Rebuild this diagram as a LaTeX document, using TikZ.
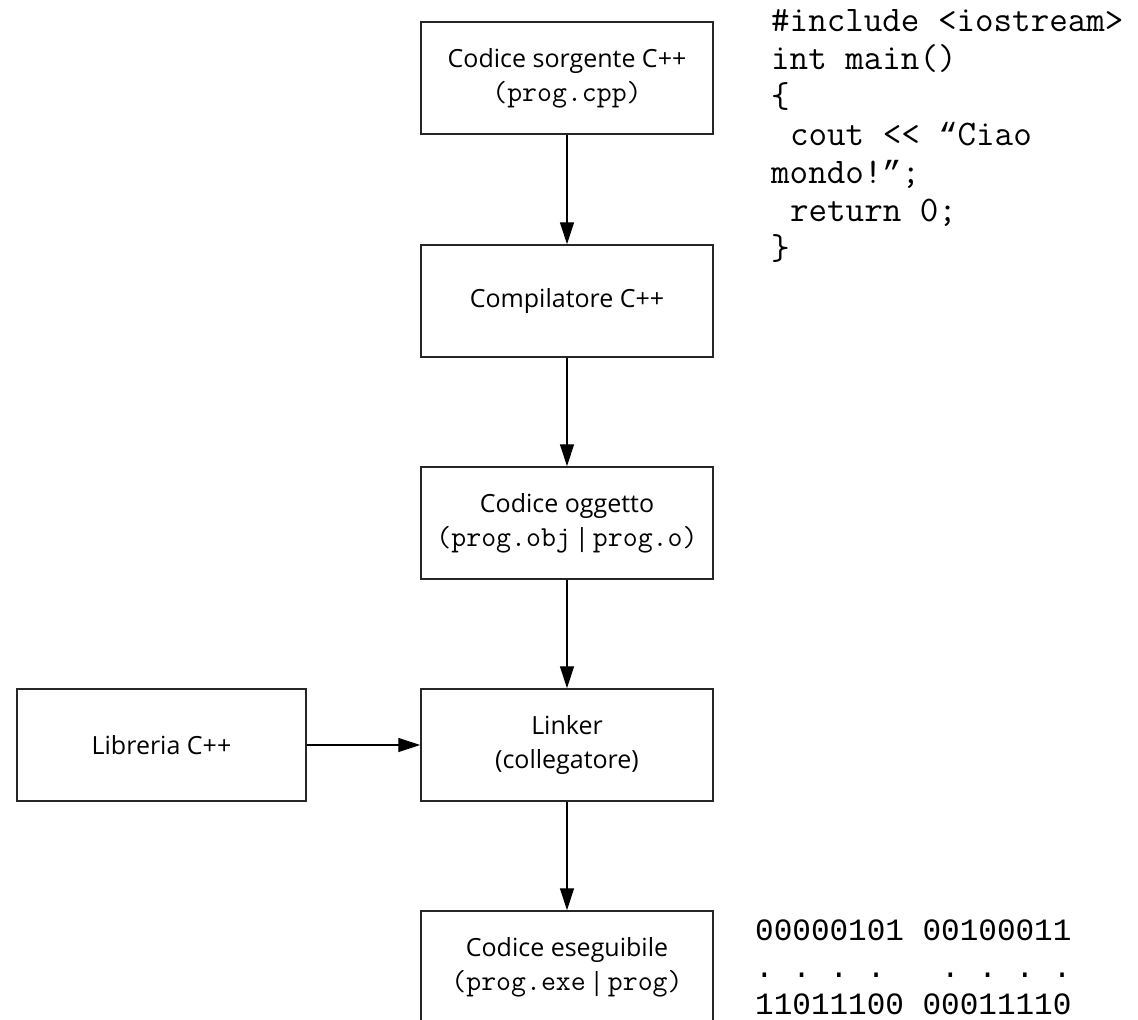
\documentclass[tikz,border=0pt]{standalone}
\usepackage{fontspec}
\setsansfont{Open Sans}
\newfontfamily\binaryfont{Liberation Mono}
\usetikzlibrary{arrows.meta}

\colorlet{stage line color}{black!85}
\newcommand{\filename}[1]{{\ttfamily\fontsize{29}{33}\selectfont #1}}
\newcommand{\codequote}[1]{{\binaryfont\fontsize{32}{38}\selectfont #1}}
\tikzset{
    x={1pt},
    y={-1pt},
    stage/.style={
        draw=stage line color,
        line width={1.5pt},
        rectangle,
        minimum width={292},
        minimum height={112},
        inner sep=0pt,
        align=center,
        font={\sffamily\fontsize{25}{34}\selectfont},
    },
    flow/.style={
        draw=black,
        line width={1.3pt},
        -{Triangle[length=22pt,width=14pt]},
    },
    listing/.style={
        anchor=north west,
        align=left,
        inner sep=0pt,
        font={\ttfamily\fontsize{36}{38}\selectfont},
    },
    machine code/.style={
        anchor=north west,
        align=left,
        inner sep=0pt,
        font={\binaryfont\fontsize{31}{37}\selectfont},
    },
}

\begin{document}
\begin{tikzpicture}
\useasboundingbox (0,0) rectangle (1138,1020);
% stages
\node[stage] (sorgente) at (567,78) {Codice sorgente C++\\\filename{(prog.cpp)}};
\node[stage] (compilatore) at (567,301) {Compilatore C++};
\node[stage] (oggetto) at (567,523) {Codice oggetto\\\filename{(prog.obj}\,|\,\filename{prog.o)}};
\node[stage] (linker) at (567,745) {Linker\\(collegatore)};
\node[stage] (eseguibile) at (567,967) {Codice eseguibile\\\filename{(prog.exe}\,|\,\filename{prog)}};
\node[stage, minimum width={289}] (libreria) at (161.5,745) {Libreria C++};
% flow
\draw[flow] (sorgente) -- (compilatore);
\draw[flow] (compilatore) -- (oggetto);
\draw[flow] (oggetto) -- (linker);
\draw[flow] (libreria) -- (linker);
\draw[flow] (linker) -- (eseguibile);
% side texts
\node[listing] (programma) at (771,9) {\#include <iostream>\\
int main()\\
\{\\
\hspace*{0.525em}cout << \codequote{“}Ciao\\
mondo!\codequote{”};\\
\hspace*{0.525em}return 0;\\
\}};
\node[machine code] (binario) at (755,920) {00000101 00100011\\
.~.~.~.~~~.~.~.~.\\
11011100 00011110};
\end{tikzpicture}
\end{document}
